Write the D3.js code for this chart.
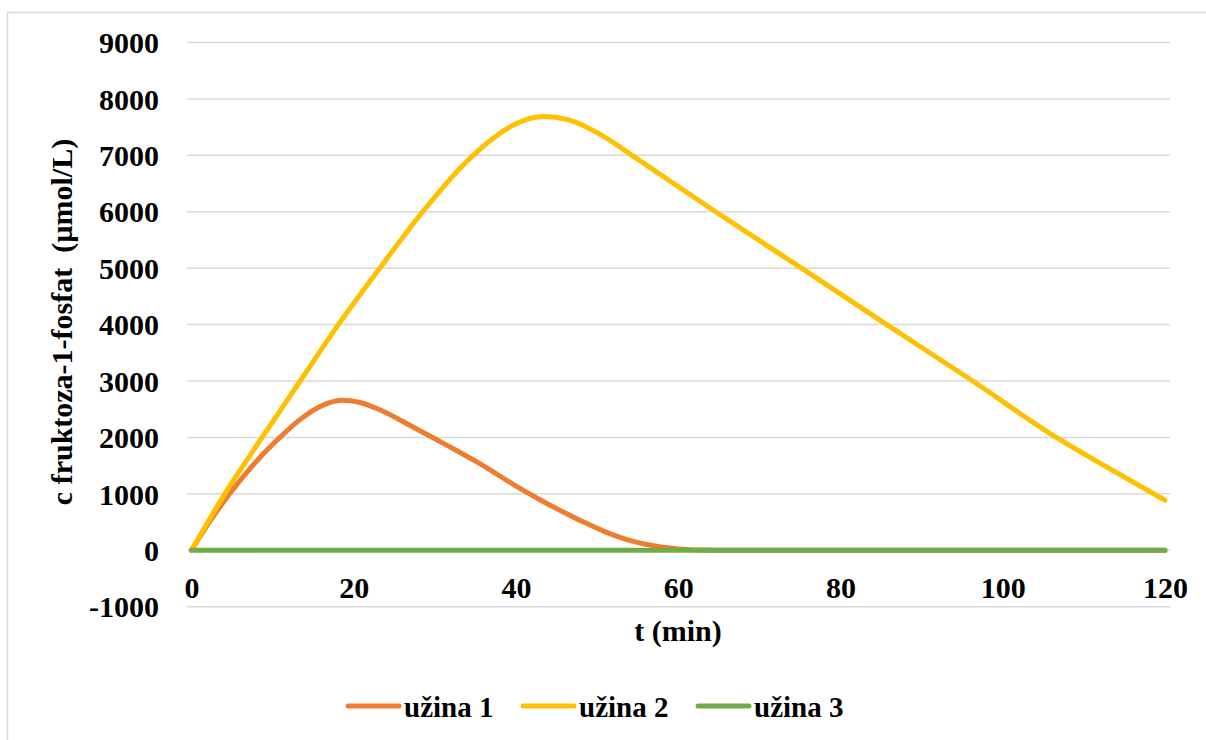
<!DOCTYPE html>
<html>
<head>
<meta charset="utf-8">
<script src="https://cdn.jsdelivr.net/npm/d3@7"></script>
</head>
<body style="margin:0;padding:0;background:#fff">
<svg id="chart" width="1206" height="740" style="display:block"></svg>
<script>
// ---- data ----
const seriesNames = ["užina 1", "užina 2", "užina 3"];
const seriesColors = ["#ED7D31", "#FFC000", "#70AD47"];

const t1 = [0, 2.3, 4.7, 8.4, 10.9, 13.4, 15.8, 18.5, 20.8, 23.2, 27.3, 31.5, 35.6, 39.7, 43.8, 47.9, 50.8, 54.1, 57.3, 60, 63, 66, 80, 100, 120];
const v1 = [0, 520, 1000, 1640, 2000, 2320, 2545, 2660, 2620, 2490, 2185, 1860, 1530, 1165, 830, 530, 340, 170, 70, 25, 5, 0, 0, 0, 0];

const t2 = [0, 4.1, 8.7, 13.4, 18.1, 23.2, 28.5, 33.5, 37.2, 40, 43.4, 46.5, 50.5, 54.3, 64.6, 75.2, 85.7, 96.3, 106.6, 113, 120];
const v2 = [0, 1000, 2000, 3000, 4000, 5000, 6000, 6830, 7303, 7560, 7688, 7630, 7363, 7000, 6000, 5000, 4000, 3000, 2000, 1460, 887];

const t3 = [0, 10, 20, 30, 40, 50, 60, 70, 80, 90, 100, 110, 120];
const v3 = [0, 0, 0, 0, 0, 0, 0, 0, 0, 0, 0, 0, 0];

const xTicks = [0, 20, 40, 60, 80, 100, 120];
const yTicks = [-1000, 0, 1000, 2000, 3000, 4000, 5000, 6000, 7000, 8000, 9000];

const xTitle = "t (min)";
const yTitle = "c fruktoza-1-fosfat  (µmol/L)";

// ---- layout ----
const FONT = "Liberation Serif";
const svg = d3.select("#chart");
const x = d3.scaleLinear().domain([0, 120]).range([191.5, 1165]);
const y = d3.scaleLinear().domain([-1000, 9000]).range([606.7, 42.5]);

function styleText(sel, size) {
  sel.style("font-family", FONT)
     .attr("font-weight", "bold")
     .attr("font-size", size)
     .attr("fill", "#000");
}

// chart border
svg.append("rect")
  .attr("x", 7.5).attr("y", 12.5).attr("width", 1220).attr("height", 760)
  .attr("fill", "none").attr("stroke", "#D9D9D9").attr("stroke-width", 1.5);

// gridlines
svg.append("g").selectAll("line").data(yTicks).join("line")
  .attr("x1", 187).attr("x2", 1170)
  .attr("y1", d => y(d)).attr("y2", d => y(d))
  .attr("stroke", "#D9D9D9").attr("stroke-width", 1.5);

// y axis labels
const yAxis = svg.append("g").attr("transform", "translate(159,0)")
  .call(d3.axisLeft(y).tickValues(yTicks).tickSize(0).tickPadding(0).tickFormat(d => String(d)));
yAxis.select(".domain").remove();
yAxis.attr("font-family", null);
yAxis.selectAll("text").attr("dy", "0.34em").call(styleText, 30);

// x axis labels
const xAxis = svg.append("g").attr("transform", "translate(0,577)")
  .call(d3.axisBottom(x).tickValues(xTicks).tickSize(0).tickPadding(0).tickFormat(d => String(d)));
xAxis.select(".domain").remove();
xAxis.attr("font-family", null);
xAxis.selectAll("text").attr("dy", "0.71em").attr("y", 0).call(styleText, 30);

// axis titles
svg.append("text").attr("x", 678).attr("y", 641)
  .attr("text-anchor", "middle").call(styleText, 30).text(xTitle);
svg.append("text")
  .attr("transform", "translate(72,322) rotate(-90)")
  .attr("text-anchor", "middle")
  .style("white-space", "pre")
  .call(styleText, 30)
  .text(yTitle);

// lines
const seriesData = [
  t1.map((t, i) => [t, v1[i]]),
  t2.map((t, i) => [t, v2[i]]),
  t3.map((t, i) => [t, v3[i]])
];
const line = d3.line().x(d => x(d[0])).y(d => y(d[1])).curve(d3.curveMonotoneX);
svg.append("g").selectAll("path").data(seriesData).join("path")
  .attr("d", line)
  .attr("fill", "none")
  .attr("stroke", (d, i) => seriesColors[i])
  .attr("stroke-width", 5)
  .attr("stroke-linecap", "round")
  .attr("stroke-linejoin", "round");

// legend
const legendX = [348, 523, 698];
const lg = svg.append("g").selectAll("g").data(seriesNames).join("g")
  .attr("transform", (d, i) => `translate(${legendX[i]},706)`);
lg.append("line").attr("x1", 0).attr("x2", 51).attr("y1", 0).attr("y2", 0)
  .attr("stroke", (d, i) => seriesColors[i]).attr("stroke-width", 5).attr("stroke-linecap", "round");
lg.append("text").attr("x", 56).attr("y", 11).call(styleText, 29).text(d => d);
</script>
</body>
</html>
